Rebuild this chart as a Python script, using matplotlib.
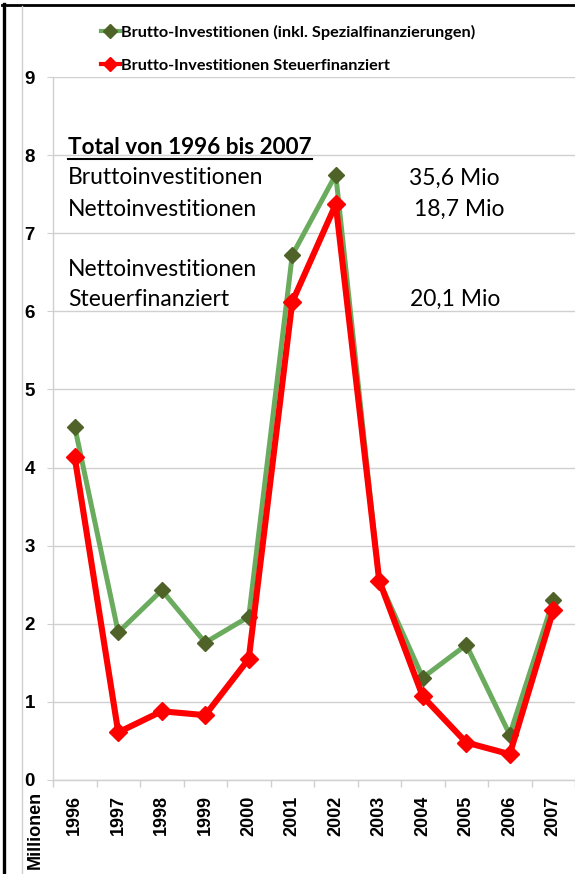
import matplotlib.pyplot as plt
from matplotlib.lines import Line2D

years = ['1996', '1997', '1998', '1999', '2000', '2001',
         '2002', '2003', '2004', '2005', '2006', '2007']
brutto = [4.52, 1.89, 2.43, 1.76, 2.09, 6.72, 7.75, 2.55, 1.31, 1.73, 0.58, 2.30]
steuer = [4.13, 0.61, 0.88, 0.83, 1.55, 6.12, 7.37, 2.55, 1.07, 0.48, 0.33, 2.17]
y_ticks = list(range(10))

W, H = 575, 874
GREEN = '#6aab5e'
OLIVE = '#4f6228'
RED = '#ff0000'
GRID = '#d0d0d0'
TEXT_FONT = ['Lato', 'DejaVu Sans']
AXIS_FONT = ['Liberation Sans', 'DejaVu Sans']


def px(x, y):
    return x / W, 1 - y / H


fig = plt.figure(figsize=(W / 100, H / 100), dpi=100, facecolor='white')

# axes: left spine at x=53, y=0 at 780, y=9 at 77
left, bottom = px(53, 780)
_, top = px(0, 77)
ax = fig.add_axes([left, bottom, 1 - left, top - bottom])

x = list(range(len(years)))
ax.plot(x, brutto, color=GREEN, lw=3.6, marker='D', ms=8.5,
        mfc=OLIVE, mec=OLIVE, zorder=3,
        label='Brutto-Investitionen (inkl. Spezialfinanzierungen)')
ax.plot(x, steuer, color=RED, lw=4.4, marker='D', ms=9,
        mfc=RED, mec=RED, zorder=4,
        label='Brutto-Investitionen Steuerfinanziert')

ax.set_xlim(-0.5, len(years) - 0.5)
ax.set_ylim(0, 9)
ax.set_yticks(y_ticks)
ax.set_yticklabels([str(v) for v in y_ticks], fontweight='bold',
                   fontsize=13.5, family=AXIS_FONT)
ax.set_xticks(x)
ax.set_xticklabels(years, rotation=90, fontweight='bold', fontsize=13,
                   family=AXIS_FONT)
ax.set_xticks([i - 0.5 for i in range(len(years) + 1)], minor=True)
ax.tick_params(axis='x', which='major', length=0, pad=11)
ax.tick_params(axis='x', which='minor', length=5, color=GRID, width=1)
ax.tick_params(axis='y', length=4, color=GRID, pad=9)
ax.grid(axis='y', color=GRID, lw=1)
ax.set_axisbelow(True)
for s in ['top', 'right']:
    ax.spines[s].set_visible(False)
for s in ['left', 'bottom']:
    ax.spines[s].set_color(GRID)
    ax.spines[s].set_linewidth(1)

leg = ax.legend(loc='upper left', bbox_to_anchor=px(86, 10),
                bbox_transform=fig.transFigure, frameon=False,
                handlelength=1.2, handletextpad=0.05, labelspacing=1.15,
                prop={'family': TEXT_FONT, 'weight': 'bold', 'size': 11.7})
for h in leg.legend_handles:
    h.set_linewidth(3)
    h.set_markersize(7)

# summary block
fig.text(*px(68, 147), 'Total von 1996 bis 2007', fontsize=16.2,
         fontweight='bold', family=TEXT_FONT, va='center')
fig.add_artist(Line2D([68 / W, 312 / W], [1 - 159 / H, 1 - 159 / H],
                      color='black', lw=1.5))
rows = [
    (178, 'Bruttoinvestitionen', '35,6 Mio'),
    (209, 'Nettoinvestitionen', '18,7 Mio'),
    (269, 'Nettoinvestitionen', ''),
    (299, 'Steuerfinanziert', '20,1 Mio'),
]
val_right = {'35,6 Mio': 500, '18,7 Mio': 504, '20,1 Mio': 500}
for y, label, val in rows:
    fig.text(*px(68, y), label, fontsize=16.5, family=TEXT_FONT, va='center')
    if val:
        fig.text(*px(val_right[val], y), val, fontsize=16.5, family=TEXT_FONT,
                 va='center', ha='right')

fig.text(*px(35, 830), 'Millionen', rotation=90, fontsize=13,
         fontweight='bold', family=AXIS_FONT, ha='center', va='center')

# outer frame
fig.add_artist(Line2D([3.5 / W, 3.5 / W], [0, 1 - 4 / H], color='black', lw=2.4))
fig.add_artist(Line2D([2 / W, 1], [1 - 5 / H, 1 - 5 / H], color='black', lw=2))
fig.add_artist(Line2D([22 / W, 22 / W], [0, 1 - 6 / H], color=GRID, lw=1))

fig.savefig('out.png', dpi=100)
